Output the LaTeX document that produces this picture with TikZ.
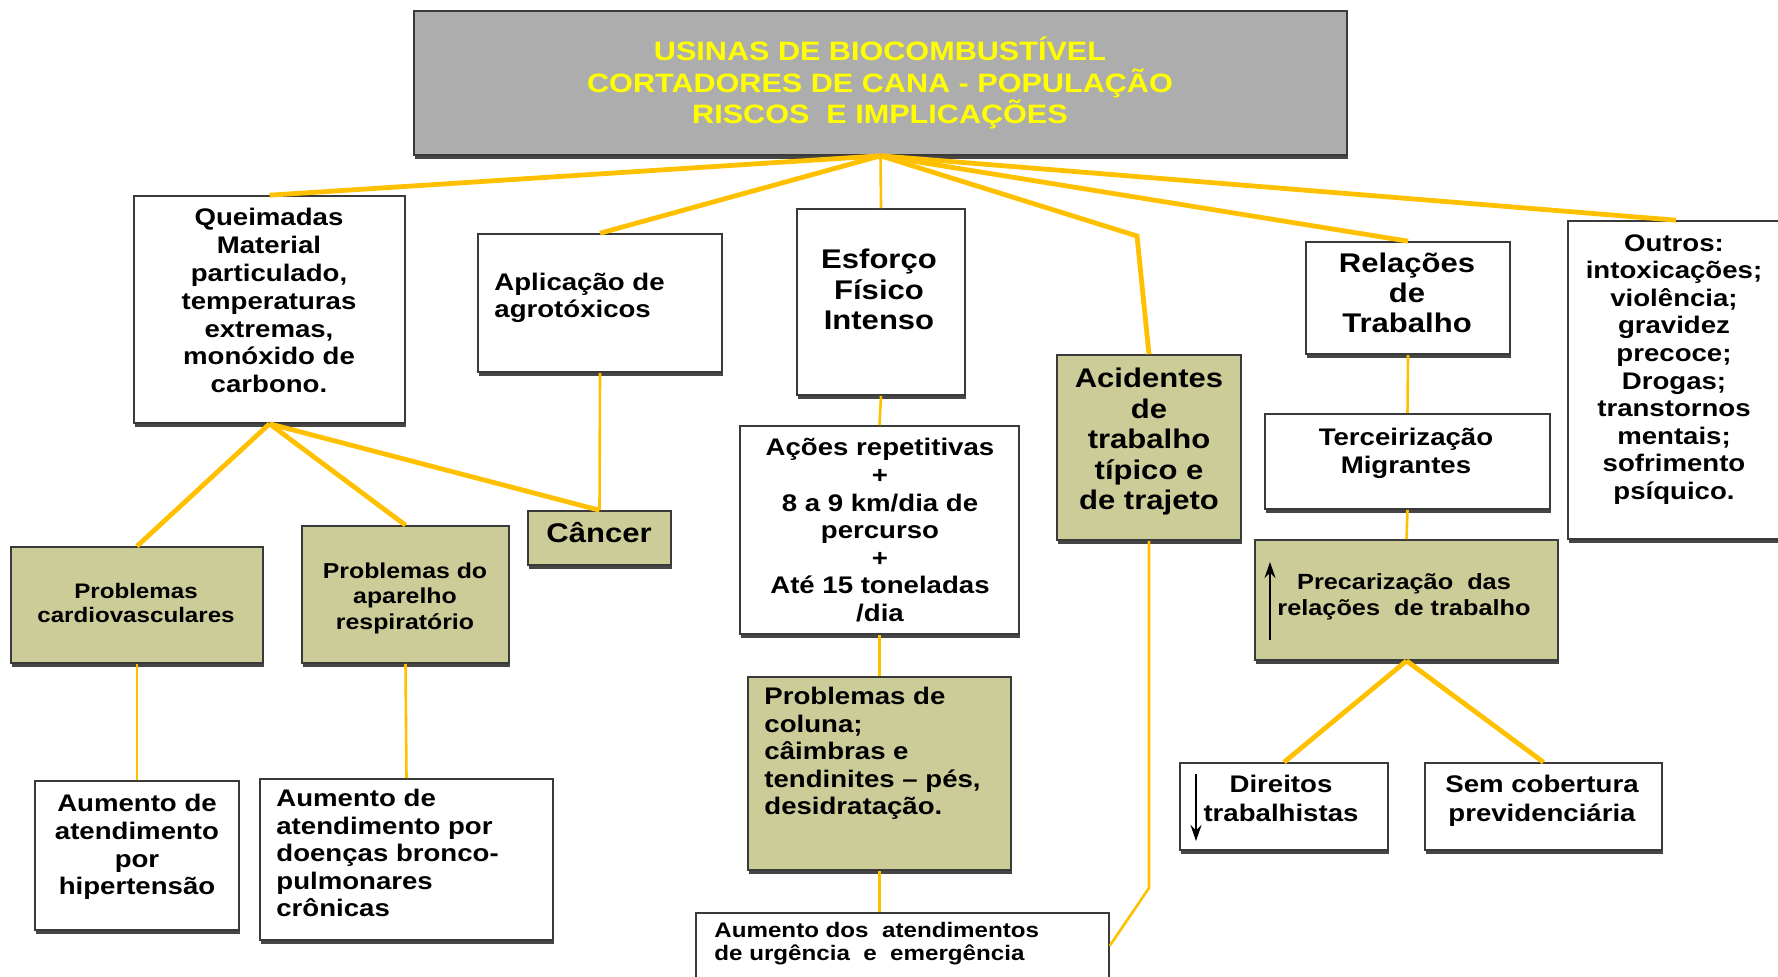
\documentclass[tikz,border=0pt]{standalone}
\usepackage{fontspec}
\setmainfont{Liberation Sans}[FakeStretch=1.15]
\usetikzlibrary{shadows,arrows.meta,calc}
\definecolor{gold}{HTML}{FFC000}
\definecolor{olivebox}{HTML}{CCCC99}
\definecolor{titlegray}{HTML}{ADADAD}
\definecolor{edgec}{HTML}{3A3A3A}
\definecolor{shade}{HTML}{454545}
\definecolor{titletext}{HTML}{FFFF00}
\begin{document}
\begin{tikzpicture}[x=0.5pt,y=-0.5pt,
  box/.style={draw=edgec, line width=0.8pt, fill=white, inner sep=0pt,
    general shadow={fill=shade, shadow xshift=0.5pt, shadow yshift=-1.8pt}},
  obox/.style={box, fill=olivebox},
  tbox/.style={box, fill=titlegray},
  txt/.style={inner sep=0pt, align=center, font=\bfseries\fontsize{12}{13.9}\selectfont},
  ltxt/.style={txt, align=left},
  bigtxt/.style={txt, font=\bfseries\fontsize{13.5}{15.2}\selectfont},
  smalltxt/.style={txt, font=\bfseries\fontsize{10.5}{11.9}\selectfont},
  thickconn/.style={draw=gold, line width=2.4pt},
  thinconn/.style={draw=gold, line width=1.3pt},
  marker/.style={draw=black, line width=0.8pt, -{Stealth[length=8pt,width=5.5pt]}}
]
\useasboundingbox (0,0) rectangle (1778,976);
\clip (0,0) rectangle (1778,976);

% boxes
\node[tbox, minimum width=466.5pt, minimum height=72pt] (title) at (880.5,83) {};
\node[box, minimum width=135.5pt, minimum height=113.5pt] (q) at (269.5,309.5) {};
\node[box, minimum width=122pt, minimum height=69pt] (apl) at (600,303) {};
\node[box, minimum width=84pt, minimum height=93pt] (esf) at (881,302) {};
\node[obox, minimum width=92pt, minimum height=92.5pt] (acid) at (1149,447.5) {};
\node[box, minimum width=102pt, minimum height=56pt] (rel) at (1408,298) {};
\node[box, minimum width=108pt, minimum height=159pt] (outros) at (1676,380) {};
\node[obox, minimum width=126pt, minimum height=58pt] (cardio) at (137,605) {};
\node[obox, minimum width=103.5pt, minimum height=68.5pt] (resp) at (405.5,594.5) {};
\node[obox, minimum width=71.5pt, minimum height=27pt] (cancer) at (599.5,538) {};
\node[box, minimum width=139.5pt, minimum height=104pt] (acoes) at (879.5,530) {};
\node[obox, minimum width=131.5pt, minimum height=96.5pt] (coluna) at (879.5,773.5) {};
\node[box, minimum width=206.5pt, minimum height=41pt] (aum) at (902.5,954) {};
\node[box, minimum width=142.5pt, minimum height=47.5pt] (terc) at (1407.5,461.5) {};
\node[obox, minimum width=151.5pt, minimum height=60pt] (prec) at (1406.5,600) {};
\node[box, minimum width=104pt, minimum height=43.5pt] (dir) at (1284,806.5) {};
\node[box, minimum width=118.5pt, minimum height=43.5pt] (sem) at (1543.5,806.5) {};
\node[box, minimum width=102pt, minimum height=74.5pt] (hip) at (137,855.5) {};
\node[box, minimum width=146.5pt, minimum height=80.5pt] (bronco) at (406.5,859.5) {};

% texts
\node[txt, anchor=north, text=titletext, font=\bfseries\fontsize{13.3}{15.6}\selectfont] (title-t) at (880,37)
  {USINAS DE BIOCOMBUSTÍVEL\\CORTADORES DE CANA - POPULAÇÃO\\RISCOS\ \ E IMPLICAÇÕES};
\node[txt, anchor=north] (q-t) at (269,208)
  {Queimadas\\Material\\particulado,\\temperaturas\\extremas,\\monóxido de\\carbono.};
\node[ltxt, anchor=north west, font=\bfseries\fontsize{12}{13.6}\selectfont] (apl-t) at (494,273)
  {Aplicação de\\agrotóxicos};
\node[bigtxt, anchor=north] (esf-t) at (879,249) {Esforço\\Físico\\Intenso};
\node[bigtxt, anchor=north] (acid-t) at (1149,368) {Acidentes\\de\\trabalho\\típico e\\de trajeto};
\node[bigtxt, anchor=north, font=\bfseries\fontsize{13.5}{15}\selectfont] (rel-t) at (1407,253) {Relações\\de\\Trabalho};
\node[txt, anchor=north, font=\bfseries\fontsize{12}{13.8}\selectfont] (outros-t) at (1674,234)
  {Outros:\\intoxicações;\\violência;\\gravidez\\precoce;\\Drogas;\\transtornos\\mentais;\\sofrimento\\psíquico.};
\node[smalltxt, anchor=north] (cardio-t) at (136,583) {Problemas\\cardiovasculares};
\node[smalltxt, anchor=north, font=\bfseries\fontsize{10.8}{12.75}\selectfont] (resp-t) at (405,562) {Problemas do\\aparelho\\respiratório};
\node[bigtxt, anchor=north] (cancer-t) at (599,522) {Câncer};
\node[txt, anchor=north, font=\bfseries\fontsize{12}{13.8}\selectfont] (acoes-t) at (880,438)
  {Ações repetitivas\\+\\8 a 9 km/dia de\\percurso\\+\\Até 15 toneladas\\/dia};
\node[ltxt, anchor=north west, font=\bfseries\fontsize{12}{13.75}\selectfont] (coluna-t) at (764,687)
  {Problemas de\\coluna;\\câimbras e\\tendinites -- pés,\\desidratação.};
\node[ltxt, anchor=north west, font=\bfseries\fontsize{10.5}{11.3}\selectfont] (aum-t) at (714,922)
  {Aumento dos\ \ atendimentos\\de urgência\ \ e\ \ emergência};
\node[txt, anchor=north, font=\bfseries\fontsize{12}{13.6}\selectfont] (terc-t) at (1406,428) {Terceirização\\Migrantes};
\node[txt, anchor=north, font=\bfseries\fontsize{11}{13}\selectfont] (prec-t) at (1404,573) {Precarização\ \ das\\relações\ \ de trabalho};
\node[txt, anchor=north, font=\bfseries\fontsize{12}{14.2}\selectfont] (dir-t) at (1281,775) {Direitos\\trabalhistas};
\node[txt, anchor=north, font=\bfseries\fontsize{12}{14.2}\selectfont] (sem-t) at (1542,775) {Sem cobertura\\previdenciária};
\node[txt, anchor=north, font=\bfseries\fontsize{12}{13.8}\selectfont] (hip-t) at (137,794) {Aumento de\\atendimento\\por\\hipertensão};
\node[ltxt, anchor=north west, font=\bfseries\fontsize{12}{13.75}\selectfont] (bronco-t) at (276,789)
  {Aumento de\\atendimento por\\doenças bronco-\\pulmonares\\crônicas};

% connector helper coordinates
\coordinate (ka) at (1137,236);
\coordinate (kb) at (1149,888);
\coordinate (kc) at ($(aum.north east)!0.4!(aum.south east)$);

% connectors from title
\draw[thickconn] (title.south) -- (q.north);
\draw[thickconn] (title.south) -- (apl.north);
\draw[thinconn] (title.south) -- (esf.north);
\draw[thickconn] (title.south) -- (ka) -- (acid.north);
\draw[thickconn] (title.south) -- (rel.north);
\draw[thickconn] (title.south) -- (outros.north);

% left branch
\draw[thickconn] (q.south) -- (cardio.north);
\draw[thickconn] (q.south) -- (resp.north);
\draw[thickconn] (q.south) -- (cancer.north);
\draw[thinconn] (apl.south) -- (cancer.north);
\draw[thinconn] (cardio.south) -- (hip.north);
\draw[thinconn] (resp.south) -- (bronco.north);

% middle branch
\draw[thinconn] (esf.south) -- (acoes.north);
\draw[thinconn] (acoes.south) -- (coluna.north);
\draw[thinconn] (coluna.south) -- (coluna.south |- aum.north);
\draw[thinconn] (acid.south) -- (kb) -- (kc);

% right branch
\draw[thinconn] (rel.south) -- (terc.north);
\draw[thinconn] (terc.south) -- (prec.north);
\draw[thickconn] (prec.south) -- (dir.north);
\draw[thickconn] (prec.south) -- (sem.north);

% arrow markers
\coordinate (up1) at (1270,640);
\coordinate (up2) at (1270,562);
\coordinate (dn1) at (1196,774);
\coordinate (dn2) at (1196,841);
\draw[marker] (up1) -- (up2);
\draw[marker] (dn1) -- (dn2);
\end{tikzpicture}
\end{document}
